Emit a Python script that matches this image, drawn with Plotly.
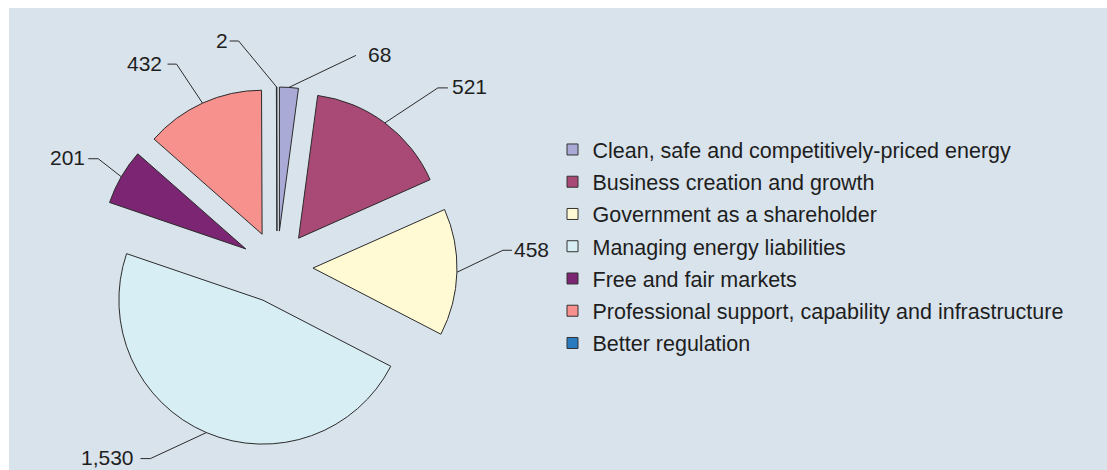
import math
import plotly.graph_objects as go

# ---- data ----
categories = [
    "Clean, safe and competitively-priced energy",
    "Business creation and growth",
    "Government as a shareholder",
    "Managing energy liabilities",
    "Free and fair markets",
    "Professional support, capability and infrastructure",
    "Better regulation",
]
values = [68, 521, 458, 1530, 201, 432, 2]
value_labels = ["68", "521", "458", "1,530", "201", "432", "2"]
colors = ["#aaaad6", "#a94a76", "#fffad4", "#d6eef4", "#7b2573", "#f6918e", "#2a7abf"]

# ---- layout / style ----
W, H = 1107, 470
CX, CY = 277, 267          # pie centre (px)
R = 144                     # slice radius (px)
PULL = 0.25
# label leader-line elbows relative to the slice's outer mid point (px), tick and gap
elbow_offsets = [(67, -32), (53, -35), (46, -22), (-56, 26), (-23, -18), (-26, -39), (-38, -46)]
tick_lengths = [0, 10, 9, 10, 10, 9, 9]
text_gaps = [10, 2, 0, 4, 1, 4, 0]
LINE_COL = "#2b2b2b"
TEXT_COL = "#1e1e1e"
FONT = "Liberation Sans, Arial, sans-serif"


def px(x):
    return x / W


def py(y):
    return 1 - y / H


half = R * (1 + PULL)
fig = go.Figure()

fig.add_trace(go.Pie(
    labels=categories, values=values,
    marker=dict(colors=colors, line=dict(color=LINE_COL, width=1)),
    pull=[PULL] * len(values), sort=False, direction="clockwise", rotation=0,
    textinfo="none", showlegend=False, hoverinfo="label+value",
    domain=dict(x=[px(CX - half), px(CX + half)], y=[py(CY + half), py(CY - half)]),
))

# legend entries (separate groups so the row spacing can match)
for name, col in zip(categories, colors):
    fig.add_trace(go.Scatter(
        x=[None], y=[None], mode="markers", name=name, legendgroup=name,
        marker=dict(symbol="square", size=11, color=col, line=dict(color="#333333", width=1)),
        hoverinfo="skip",
    ))

shapes = [dict(type="rect", xref="paper", yref="paper", x0=px(9), x1=1, y0=0, y1=py(8),
               fillcolor="#d9e3ec", line=dict(width=0), layer="below")]
annotations = []
total = float(sum(values))
cum = 0.0
for i, v in enumerate(values):
    mid = (cum + v / 2) / total * 360.0
    cum += v
    th = math.radians(mid)
    ax_ = CX + half * math.sin(th)
    ay_ = CY - half * math.cos(th)
    dx, dy = elbow_offsets[i]
    ex, ey = ax_ + dx, ay_ + dy
    sgn = 1 if dx > 0 else -1
    tx = ex + sgn * tick_lengths[i]
    path = f"M {px(ax_)},{py(ay_)} L {px(ex)},{py(ey)}"
    if tick_lengths[i] > 0:
        path += f" L {px(tx)},{py(ey)}"
    shapes.append(dict(type="path", xref="paper", yref="paper", path=path,
                       line=dict(color=LINE_COL, width=1)))
    annotations.append(dict(
        x=px(tx + sgn * text_gaps[i]), y=py(ey - 1), xref="paper", yref="paper",
        text=value_labels[i], showarrow=False,
        xanchor="left" if sgn > 0 else "right", yanchor="middle",
        font=dict(size=21, color=TEXT_COL, family=FONT),
    ))

fig.update_layout(
    width=W, height=H,
    margin=dict(l=0, r=0, t=0, b=0),
    paper_bgcolor="white", plot_bgcolor="rgba(0,0,0,0)",
    xaxis=dict(visible=False), yaxis=dict(visible=False),
    shapes=shapes, annotations=annotations,
    showlegend=True,
    legend=dict(
        x=px(552.5), y=py(129), xanchor="left", yanchor="top",
        traceorder="grouped", tracegroupgap=1.3,
        bgcolor="rgba(0,0,0,0)", borderwidth=0,
        font=dict(size=21.5, color=TEXT_COL, family=FONT),
    ),
    font=dict(family=FONT),
)

fig.write_html("out.html", config={"displayModeBar": False},
               post_script="document.body.style.margin='0';document.body.style.overflow='hidden';")
